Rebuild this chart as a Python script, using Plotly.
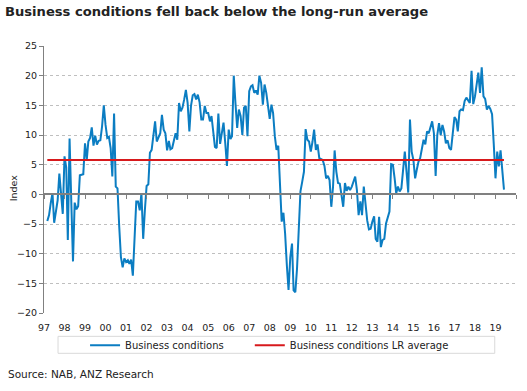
import pandas as pd
import plotly.graph_objects as go

# Monthly NAB business conditions index, Mar 1997 - Jun 2019
start_month = "1997-03-01"
business_conditions = [
    # 1997-03 .. 2000-04
    -4.5, -3.5, -1.5, 0.2, -4.8, -3, -1, 3.5, 0, -3.3,
    6.4, 4.5, -7.7, 9.4, -1, -11.3, -1.4, -2.5, -2, 3.2, 3.3, 3.4,
    8.6, 5.8, 8.9, 9.5, 11.3, 8.2, 9.9, 8.4, 9.0, 9.1, 11.5, 15.0,
    11.7, 9.5, 9.7, 7.8,
    # 2000-05 .. 2003-07
    3.0, 13.6, 1.3, 1.0, -5.5, -10.6, -12.3, -10.8,
    -11.4, -11.1, -11.7, -11, -13.7, -7.7, -1.2, -1.2, -2.7, 0.2, -7.5, -2.7,
    1.4, 1.7, 7, 7.5, 10, 12.3, 8.9, 9.8, 10.3, 13.4, 10.9, 10.3,
    7.4, 9, 7.6, 7.8, 9.3, 10.3, 9.2,
    # 2003-08 .. 2006-10
    15.4, 14, 14.6, 16, 17.6,
    15.4, 10.6, 14.9, 16.7, 16.9, 16, 16.8, 15.5, 12.6, 12.6, 14.9, 13.7,
    13.7, 12.3, 13.2, 10.6, 8, 7.8, 13.6, 8.5, 10.6, 12.1, 8.6, 4.8,
    10.9, 9.3, 9.8, 20, 15.4, 11.2, 14.3, 13.2, 10, 14.6,
    # 2006-11 .. 2009-12
    14.9, 9.8,
    17.4, 18.2, 18.4, 17.1, 17.5, 16.8, 20, 18.8, 15.1, 18.5, 17.1, 15,
    12.7, 15.1, 13.7, 9.8, 7.5, 8.2, 1.3, -4.6, -3.1, -6.6, -12, -16.1,
    -10.6, -8.3, -16.2, -16.5, -12.5, -6, 0.5, 2.1, 3.8, 11, 9.2, 8.9,
    # 2010-01 .. 2013-03
    7.2, 8.9, 10.9, 7.5, 8.4, 6.1, 5.9, 5.8, 4.8, 2.7, 3.1, 2.4,
    -2.1, 1.3, 7.4, 3.8, 1.9, 1.8, -0.1, -2.1, 1.9, 0.6, 1.3, 0.7,
    1.3, 2.3, 3, 0.7, -3.5, -1.2, -3.5, 1.3, -1.5, -4.4, -5.9, -5.8,
    -4.6, -3.7, -7.5,
    # 2013-04 .. 2016-06
    -8, -3.8, -8.9, -7.7, -7.5, -4.9, -3.8, -2.9, 5.1,
    5, 2.7, 0.2, 1.3, 0.5, 1, 4.7, 7.2, 3.8, 0.3, 12.6, 7.2,
    5.8, 2.7, 4.1, 5.5, 6.1, 7.8, 9.2, 8.4, 10.6, 10.3, 11.5, 12.3,
    10.3, 3.1, 10, 12, 10, 11.7,
    # 2016-07 .. 2019-06
    10.6, 8.6, 9.1, 7.8, 7.5, 10,
    13, 12.6, 10.6, 14, 14.3, 14.2, 15.7, 16.3, 15.9, 15.4, 20.8, 15.2,
    16.5, 18.4, 20.5, 17.1, 21.4, 16.5, 16.1, 14.3, 14.9, 14.4, 13.5, 8.5,
    2.7, 7.2, 4.7, 7.4, 4.0, 0.8,
]
lr_average = 5.8

years = list(range(1997, 2020))
year_labels = [f"{y % 100:02d}" for y in years]
y_ticks = [25, 20, 15, 10, 5, 0, -5, -10, -15, -20]

dates = pd.date_range(start_month, periods=len(business_conditions), freq="MS")
year_starts = [f"{y}-01-01" for y in years]
axis_ticks = year_starts + ["2020-01-01"]
x_range = ["1997-01-01", "2020-01-01"]

FONT = "DejaVu Sans"
BLUE = "#0B7DC2"
RED = "#D7191C"
GREY = "#808080"

fig = go.Figure()
fig.add_trace(go.Scatter(
    x=dates, y=business_conditions, mode="lines", name="Business conditions",
    line=dict(color=BLUE, width=2), legend="legend",
))
fig.add_trace(go.Scatter(
    x=dates, y=[lr_average] * len(dates), mode="lines",
    name="Business conditions LR average",
    line=dict(color=RED, width=2), legend="legend2",
))
# invisible helper trace to carry the zero-line axis with its tick marks
fig.add_trace(go.Scatter(
    x=[dates[0]], y=[0], xaxis="x2", mode="markers", opacity=0,
    showlegend=False, hoverinfo="skip",
))

fig.update_layout(
    width=527, height=391,
    margin=dict(l=44, r=11, t=46, b=78),
    paper_bgcolor="white", plot_bgcolor="white",
    font=dict(family=FONT, size=9, color="#222222"),
    title=dict(
        text="<b>Business conditions fell back below the long-run average</b>",
        x=0.0095, xref="container", xanchor="left",
        y=0.972, yref="container", yanchor="middle",
        font=dict(family=FONT, size=13.1, color="#222222"),
    ),
    xaxis=dict(
        type="date", range=x_range,
        tickvals=year_starts, ticktext=year_labels,
        showgrid=False, showline=False, zeroline=False,
        ticks="outside", ticklen=6, tickcolor="rgba(0,0,0,0)",
        tickfont=dict(size=9.5),
    ),
    xaxis2=dict(
        type="date", range=x_range, overlaying="x", anchor="free",
        position=(0 - (-20)) / 45,
        tickvals=axis_ticks, showticklabels=False,
        ticks="outside", ticklen=4, tickcolor=GREY, tickwidth=1,
        showline=True, linecolor=GREY, linewidth=1.5,
        showgrid=False, zeroline=False,
    ),
    yaxis=dict(
        range=[-20, 25], tickvals=y_ticks,
        showgrid=True, gridcolor="#BFBFBF", griddash="dot", gridwidth=1,
        zeroline=False, showline=True, linecolor=GREY, linewidth=1,
        ticks="outside", ticklen=4, tickcolor=GREY,
        tickfont=dict(size=9.5),
    ),
    legend=dict(
        orientation="h", x=0.087, xanchor="left", y=-0.121, yanchor="middle",
        bgcolor="rgba(0,0,0,0)", font=dict(size=10, family=FONT),
    ),
    legend2=dict(
        orientation="h", x=0.436, xanchor="left", y=-0.121, yanchor="middle",
        bgcolor="rgba(0,0,0,0)", font=dict(size=10, family=FONT),
    ),
    shapes=[dict(
        type="rect", xref="paper", yref="paper",
        x0=0.0297, x1=0.955, y0=-0.151, y1=-0.0874,
        line=dict(color="#D9D9D9", width=1), fillcolor="rgba(0,0,0,0)",
    )],
    annotations=[
        dict(text="Index", textangle=-90, xref="paper", yref="paper",
             x=-0.0657, y=0.471, xanchor="center", yanchor="middle",
             showarrow=False, font=dict(size=9.5, family=FONT)),
        dict(text="Source: NAB, ANZ Research", xref="paper", yref="paper",
             x=-0.0805, y=-0.23, xanchor="left", yanchor="middle",
             showarrow=False, font=dict(size=10.5, family=FONT)),
    ],
)

fig.write_html(
    "out.html",
    config={"displayModeBar": False},
    post_script="document.body.style.margin='0';document.body.style.padding='0';",
)
